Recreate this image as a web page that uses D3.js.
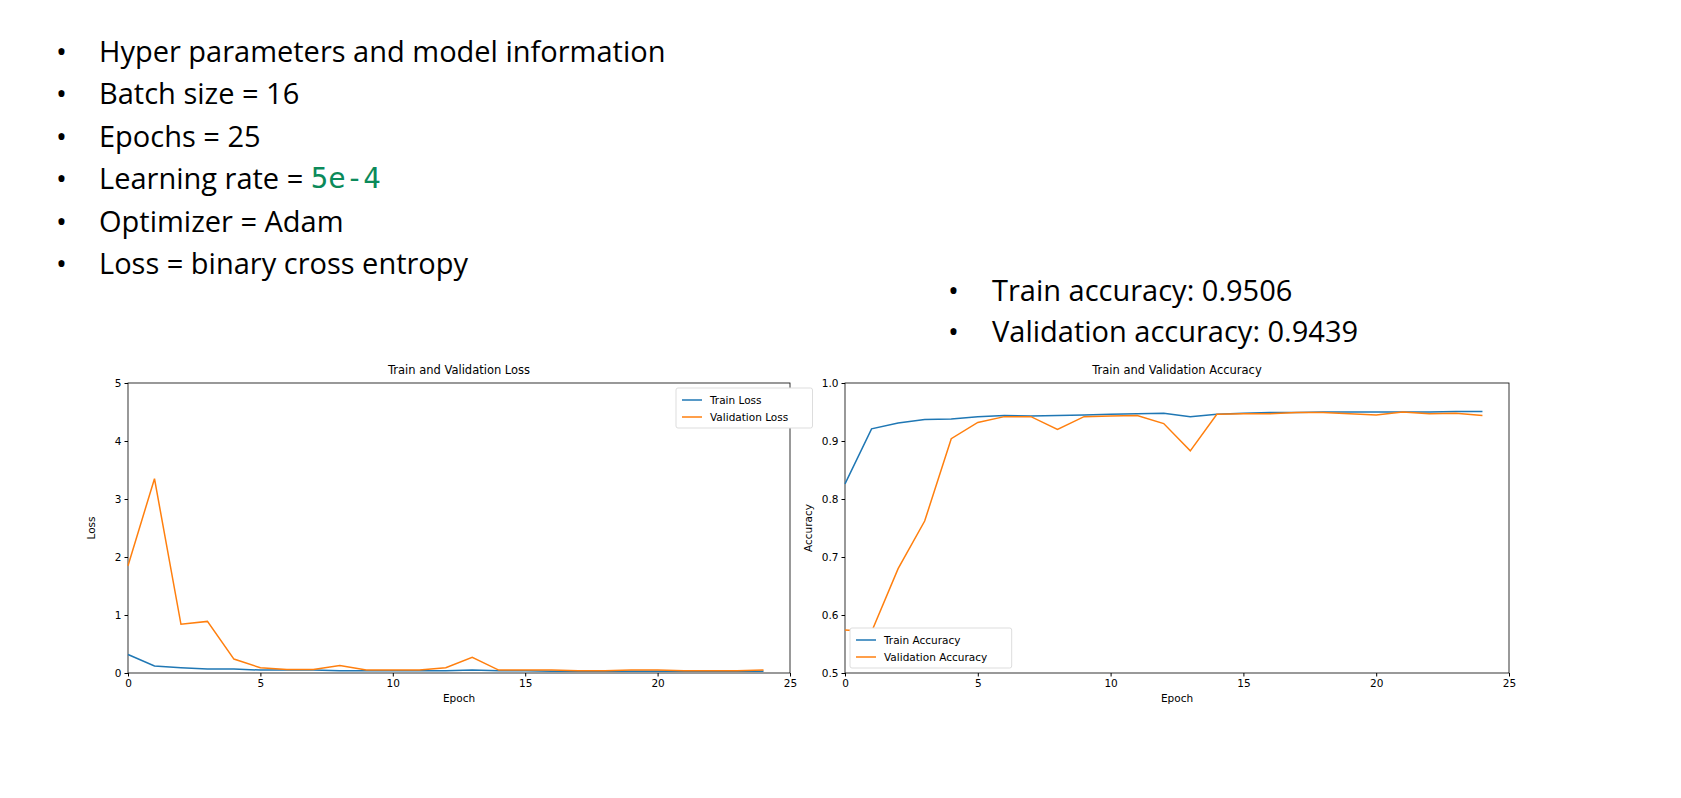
<!DOCTYPE html>
<html><head><meta charset="utf-8">
<script src="https://cdn.jsdelivr.net/npm/d3@7"></script>
<style>
body{margin:0;background:#fff;}
svg text{font-family:"DejaVu Sans",sans-serif;}
.big{font-family:"Open Sans",sans-serif !important;font-size:29px;fill:#000;}
.tick text{font-size:10.5px;}
</style></head><body>
<script>
const epochs = d3.range(0, 25)
const trainLoss = [0.32,0.12,0.09,0.07,0.07,0.05,0.05,0.05,0.04,0.04,0.04,0.04,0.04,0.05,0.04,0.04,0.03,0.03,0.03,0.03,0.03,0.03,0.03,0.03,0.03]
const valLoss = [1.85,3.35,0.84,0.89,0.24,0.09,0.06,0.06,0.13,0.05,0.05,0.05,0.09,0.27,0.05,0.05,0.05,0.04,0.04,0.05,0.05,0.04,0.04,0.04,0.05]
const trainAcc = [0.826,0.921,0.931,0.937,0.938,0.942,0.944,0.943,0.944,0.945,0.946,0.947,0.948,0.942,0.946,0.948,0.949,0.949,0.950,0.950,0.950,0.950,0.950,0.951,0.951]
const valAcc = [0.574,0.571,0.680,0.762,0.904,0.932,0.942,0.942,0.920,0.942,0.943,0.944,0.930,0.883,0.946,0.947,0.947,0.949,0.949,0.947,0.945,0.950,0.947,0.948,0.944]
const leftBullets = ["Hyper parameters and model information","Batch size = 16","Epochs = 25","Learning rate = ","Optimizer = Adam","Loss = binary cross entropy"]
const rightBullets = ["Train accuracy: 0.9506","Validation accuracy: 0.9439"]

const svg = d3.select("body").append("svg").attr("width", 1681).attr("height", 798)

// bullet text
leftBullets.forEach((t, i) => {
    const y = 50 + i * 42.5
    svg.append("text").attr("class","big").attr("x", 56).attr("y", y).attr("dominant-baseline","central").text("•")
    const txt = svg.append("text").attr("class","big").attr("x", 99).attr("y", y).attr("dominant-baseline","central").text(t)
    if (i == 3) txt.append("tspan").text("5e-4").style("font-family","'DejaVu Sans Mono',monospace").style("fill","#0b8a5a")
})
rightBullets.forEach((t, i) => {
    const y = 289 + i * 41
    svg.append("text").attr("class","big").attr("x", 948).attr("y", y).attr("dominant-baseline","central").text("•")
    svg.append("text").attr("class","big").attr("x", 992).attr("y", y).attr("dominant-baseline","central").text(t)
})

function panel(left, right, yDomain, yTicks, yFmt, series, title, ylab, legendPos) {
    const top = 383, bottom = 673
    const x = d3.scaleLinear().domain([0, 25]).range([left, right])
    const y = d3.scaleLinear().domain(yDomain).range([bottom, top])
    const g = svg.append("g")
    g.append("g").attr("transform", `translate(0,${bottom})`)
        .call(d3.axisBottom(x).tickValues([0,5,10,15,20,25]).tickSize(3.5).tickPadding(3))
    g.append("g").attr("transform", `translate(${left},0)`)
        .call(d3.axisLeft(y).tickValues(yTicks).tickFormat(yFmt).tickSize(3.5).tickPadding(3))
    g.selectAll(".domain").remove()
    g.append("rect").attr("x", left).attr("y", top).attr("width", right-left).attr("height", bottom-top)
        .attr("fill","none").attr("stroke","#000").attr("stroke-width",0.8)
    const line = d3.line().x((d,i) => x(epochs[i])).y(d => y(d))
    series.forEach(s => g.append("path").datum(s.values).attr("d", line)
        .attr("fill","none").attr("stroke", s.color).attr("stroke-width",1.5))
    g.append("text").attr("x",(left+right)/2).attr("y", top-9).attr("text-anchor","middle").style("font-size","11.5px").text(title)
    g.append("text").attr("x",(left+right)/2).attr("y", bottom+29).attr("text-anchor","middle").style("font-size","10.5px").text("Epoch")
    g.append("text").attr("transform",`translate(${left-33},${(top+bottom)/2}) rotate(-90)`).attr("text-anchor","middle").style("font-size","10.5px").text(ylab)
    const lg = g.append("g").attr("transform", `translate(${legendPos[0]},${legendPos[1]})`)
    const lw = d3.max(series, s => s.name.length) * 6.3 + 42
    lg.append("rect").attr("width", lw).attr("height", 40).attr("rx",2).attr("fill","#fff").attr("stroke","#ddd")
    series.forEach((s, i) => {
        lg.append("line").attr("x1",6).attr("x2",26).attr("y1",12+i*17).attr("y2",12+i*17).attr("stroke",s.color).attr("stroke-width",1.5)
        lg.append("text").attr("x",34).attr("y",12+i*17).attr("dominant-baseline","central").style("font-size","10.5px").text(s.name)
    })
}

panel(128, 790, [0,5], [0,1,2,3,4,5], d3.format("d"),
    [{name:"Train Loss", values:trainLoss, color:"#1f77b4"},{name:"Validation Loss", values:valLoss, color:"#ff7f0e"}],
    "Train and Validation Loss", "Loss", [676, 388])
panel(845, 1509, [0.5,1], [0.5,0.6,0.7,0.8,0.9,1.0], d3.format(".1f"),
    [{name:"Train Accuracy", values:trainAcc, color:"#1f77b4"},{name:"Validation Accuracy", values:valAcc, color:"#ff7f0e"}],
    "Train and Validation Accuracy", "Accuracy", [850, 628])
</script>
</body></html>
